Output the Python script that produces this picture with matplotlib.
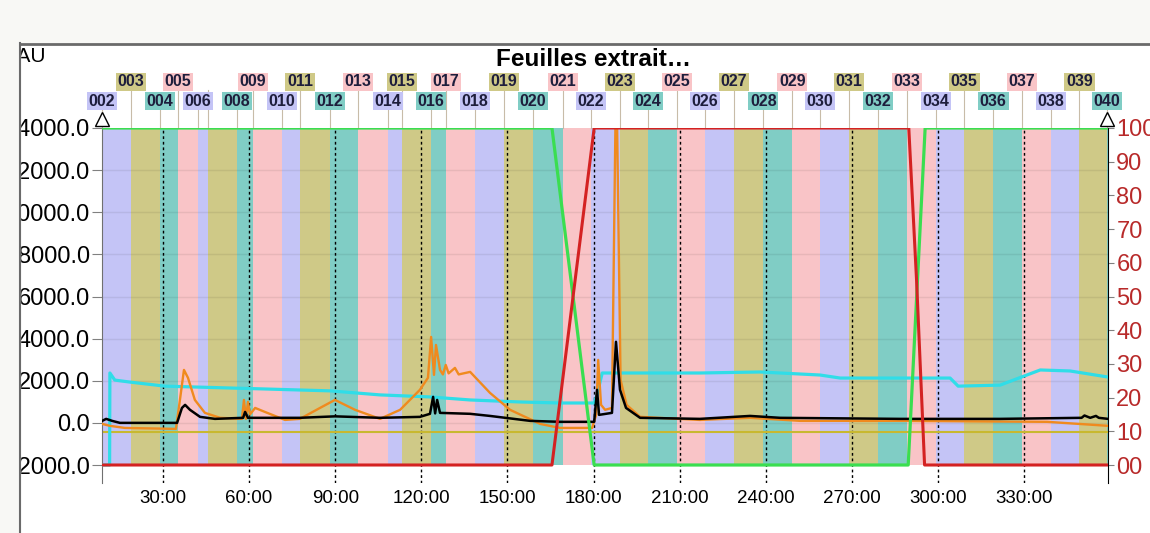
import matplotlib.pyplot as plt
import numpy as np
from matplotlib.patches import Rectangle
from matplotlib.lines import Line2D

plt.rcParams['font.family'] = ['Liberation Sans', 'DejaVu Sans']

# Fractions (start time in minutes)
frac_names = ['002', '003', '004', '005', '006', '007', '008', '009', '010', '011',
              '012', '013', '014', '015', '016', '017', '018', '019', '020', '021',
              '022', '023', '024', '025', '026', '027', '028', '029', '030', '031',
              '032', '033', '034', '035', '036', '037', '038', '039', '040']
frac_start = [8.8, 18.9, 29.0, 35.2, 42.2, 45.7, 55.8, 61.4, 71.5, 77.7,
              88.2, 97.9, 108.4, 113.3, 123.4, 128.6, 138.7, 148.8, 158.9, 169.4,
              179.1, 189.2, 199.0, 209.1, 218.8, 228.9, 239.1, 249.2, 258.9, 269.0,
              279.1, 289.2, 299.3, 309.1, 319.2, 329.3, 339.4, 349.2, 358.9]
hidden_labels = ['007']

# UV trace (black), mAU
black_t = [8.8, 10.2, 12.3, 15.0, 34.9, 36.6, 37.7, 39.4, 42.9, 48.1, 57.9, 58.6, 59.6,
           77.7, 89.9, 105.6, 119.5, 123.0, 124.1, 124.8, 125.5, 126.5, 137.0, 143.9,
           157.9, 168.3, 180.2, 181.2, 181.9, 186.4, 187.8, 189.2, 191.3, 196.2, 217.0,
           234.5, 245.0, 286.8, 321.6, 350.0, 351.0, 353.0, 355.0, 356.0, 359.2]
black_v = [95, 190, 95, 0, 0, 710, 855, 620, 285, 190, 240, 520, 240,
           240, 310, 240, 285, 430, 1235, 450, 1090, 475, 430, 330,
           95, 50, 50, 1570, 380, 475, 3850, 1570, 710, 240, 190,
           330, 240, 190, 190, 240, 350, 240, 330, 240, 190]

# UV trace (orange), mAU
orange_t = [8.8, 11.5, 16.7, 34.5, 35.9, 37.3, 38.7, 41.1, 44.6, 49.9, 57.5, 58.2, 58.9,
            59.6, 60.3, 62.1, 65.5, 72.5, 77.7, 84.7, 89.9, 96.9, 105.6, 112.6, 119.5,
            122.3, 123.4, 124.4, 125.1, 126.5, 127.5, 128.5, 129.5, 131.7, 133.0, 137.0,
            143.9, 150.9, 161.4, 168.3, 179.5, 180.9, 181.6, 182.6, 184.0, 186.4, 187.6,
            188.2, 189.4, 191.5, 196.2, 217.0, 234.5, 252.0, 286.8, 338.0, 359.2]
orange_v = [-50, -140, -240, -285, 1090, 2515, 2140, 1090, 475, 240, 190, 1090, 190,
            1000, 400, 710, 520, 140, 190, 710, 1090, 620, 190, 620, 1570,
            2140, 4080, 2280, 3700, 2515, 2300, 2750, 2350, 2610, 2300, 2420,
            1425, 620, -50, -240, -240, 380, 2990, 855, 620, 710, 14000,
            14000, 2040, 855, 285, 140, 240, 95, 95, 50, -140]

# flat olive trace, mAU
olive_level = -450

# conductivity (cyan), percent of right axis
cyan_t = [8.8, 11.4, 11.5, 13.2, 18.5, 30.7, 42.9, 63.8, 88.2, 105.6, 123.0, 137.0, 154.4,
          168.3, 180.2, 181.2, 183.0, 217.0, 238.0, 258.9, 265.9, 304.2, 307.0, 321.6,
          335.6, 346.0, 359.2]
cyan_v = [0, 0, 27.3, 25.2, 24.6, 23.4, 23.1, 22.6, 22.0, 20.8, 20.2, 19.3, 18.7,
          18.4, 18.4, 20.8, 27.3, 27.3, 27.6, 26.7, 25.8, 25.8, 23.4, 23.7,
          28.2, 27.9, 26.1]

# gradient lines, percent
green_t = [8.8, 165.5, 180.2, 289.6, 295.5, 359.2]
green_v = [100, 100, 0, 0, 100, 100]
red_t = [8.8, 165.5, 180.2, 289.8, 292.5, 295.3, 359.2]
red_v = [0, 0, 100, 100, 55, 0, 0]

x_ticks = [30, 60, 90, 120, 150, 180, 210, 240, 270, 300, 330]
left_ticks = [-2000, 0, 2000, 4000, 6000, 8000, 10000, 12000, 14000]
right_ticks = [0, 10, 20, 30, 40, 50, 60, 70, 80, 90, 100]
right_labels = ['00', '10', '20', '30', '40', '50', '60', '70', '80', '90', '100']

band_colors = ['#c4c4f6', '#cfc987', '#80cdc5', '#f9c4c7']

W, H = 1150, 533
t0, t1 = 8.75, 359.2
ax_top, ax_bot = 128, 483


def pct2mau(p):
    return np.asarray(p) * 160.0 - 2000.0


def mau2pct(v):
    return (np.asarray(v) + 2000.0) / 160.0


def ay(py):
    # pixel row -> axes fraction
    return (ax_bot - py) / (ax_bot - ax_top)


fig = plt.figure(figsize=(W / 100, H / 100), dpi=100)
fig.patch.set_facecolor('white')
ax = fig.add_axes([102 / W, (H - ax_bot) / H, (1108 - 102) / W, (ax_bot - ax_top) / H])
ax.set_xlim(t0, t1)
ymin = -2000 - (ax_bot - 465) * 16000 / 337
ax.set_ylim(ymin, 14000)

# fraction bands
for i in range(len(frac_start)):
    s = frac_start[i]
    e = frac_start[i + 1] if i + 1 < len(frac_start) else t1
    ax.fill_between([s, e], -2000, 14000, color=band_colors[i % 4], lw=0, zorder=0)

for v in left_ticks[1:-1]:
    ax.axhline(v, color='k', alpha=0.07, lw=1, zorder=0.5)
for t in x_ticks:
    ax.axvline(t, color='k', lw=1, linestyle=(0, (2, 2)), zorder=1)

# traces
ax.axhline(olive_level, color='#c8b830', lw=1.5, zorder=2)
ax.plot(cyan_t, pct2mau(cyan_v), color='#30dde8', lw=2.3, zorder=3)
ax.plot(orange_t, orange_v, color='#f08a1e', lw=1.7, zorder=4)
ax.plot(black_t, black_v, color='black', lw=1.8, zorder=5)
ax.plot(green_t, pct2mau(green_v), color='#3ade50', lw=2.3, zorder=6)
ax.plot(red_t, pct2mau(red_v), color='#d42222', lw=2.2, zorder=7)

# axes styling
for side in ['top', 'bottom', 'right']:
    ax.spines[side].set_visible(False)
ax.spines['left'].set_color('#707070')
ax.set_yticks(left_ticks)
ax.set_yticklabels(['%.1f' % v for v in left_ticks])
ax.tick_params(axis='y', labelsize=17, length=7.2, color='#808080', pad=1.5)
ax.set_xticks(x_ticks)
ax.set_xticklabels(['%d:00' % t for t in x_ticks])
ax.tick_params(axis='x', labelsize=13.5, length=0, pad=5)

sec = ax.secondary_yaxis('right', functions=(mau2pct, pct2mau))
sec.set_yticks(right_ticks)
sec.set_yticklabels(right_labels)
sec.tick_params(labelsize=17, labelcolor='#b82a2a', length=4, color='#808080', pad=2)
sec.spines['right'].set_color('black')

# fraction labels above the plot
xt = ax.get_xaxis_transform()
for i, name in enumerate(frac_names):
    s = frac_start[i]
    odd = int(name) % 2 == 1
    ly = ay(82) if odd else ay(101)
    line_top = ay(90) if odd else ay(109)
    ax.plot([s, s], [line_top, 1.0], color='#c8bca8', lw=0.8, transform=xt, clip_on=False)
    if name in hidden_labels:
        continue
    ax.text(s, ly, name, transform=xt, ha='center', va='center', fontsize=11.5,
            fontweight='bold', color='#1e1e3c', clip_on=False,
            bbox=dict(boxstyle='square,pad=0.12', fc=band_colors[i % 4], ec='none'))

# start / end markers
for t in [t0, t1 - 0.2]:
    ax.plot([t], [ay(119)], marker='^', ms=10, mfc='white', mec='black', mew=1,
            transform=xt, clip_on=False, zorder=8)

fig.text(593 / W, 1 - 60 / H, 'Feuilles extrait…', ha='center', va='center',
         fontsize=17.5, fontweight='bold')
fig.text(0, 1 - 57 / H, 'mAU', ha='left', va='center', fontsize=15)

# window frame around the chart panel
bg = '#f8f8f5'
fig.patches.append(Rectangle((0, 0), 20 / W, 1, transform=fig.transFigure,
                             color=bg, zorder=10))
fig.patches.append(Rectangle((0, 1 - 43 / H), 1, 43 / H, transform=fig.transFigure,
                             color=bg, zorder=10))
fig.lines.append(Line2D([20 / W, 20 / W], [0, 1 - 43 / H], transform=fig.transFigure,
                        color='#6a6a6a', lw=1.5, zorder=11))
fig.lines.append(Line2D([20 / W, 1], [1 - 44 / H, 1 - 44 / H], transform=fig.transFigure,
                        color='#6a6a6a', lw=2, zorder=11))

fig.savefig('out.png', dpi=100)
